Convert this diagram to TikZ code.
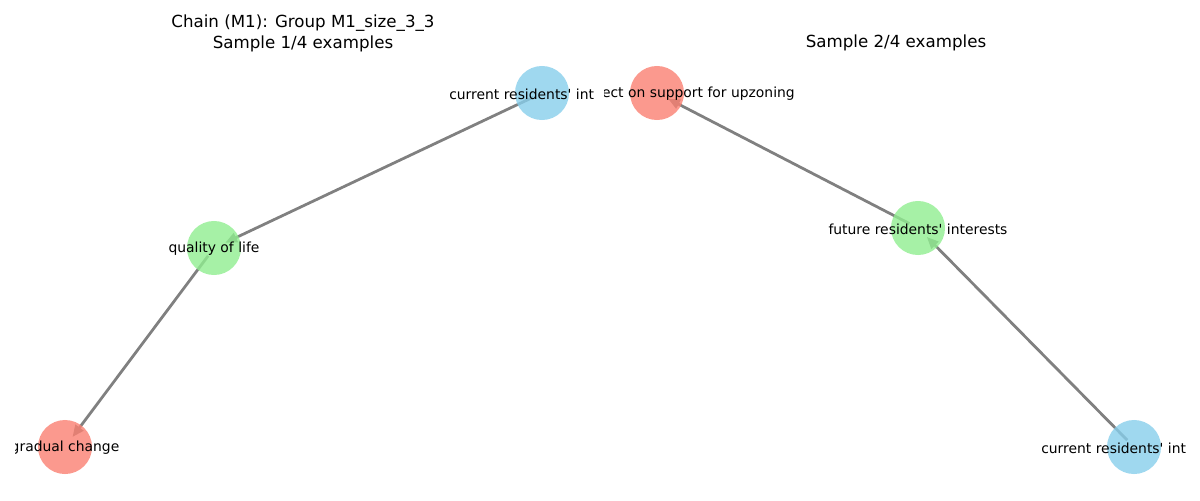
\documentclass[tikz,border=0pt]{standalone}
\usepackage{fontspec}
\setmainfont{DejaVu Sans}
\usetikzlibrary{arrows.meta, backgrounds}
\definecolor{nodeblue}{RGB}{135, 206, 235}
\definecolor{nodered}{RGB}{250, 128, 114}
\definecolor{nodegreen}{RGB}{144, 238, 144}
\definecolor{edgegray}{RGB}{128, 128, 128}

\tikzset{
    chainnode/.style={circle, minimum size=38.9pt, inner sep=0pt, fill opacity=0.8},
    chainlabel/.style={inner sep=0pt, font=\fontsize{10}{12}\selectfont},
    chainedge/.style={draw=edgegray, line width=2pt, -{Triangle[length=8.5pt,width=7pt]}, shorten <=7pt, shorten >=9pt},
    paneltitle/.style={inner sep=0pt, align=center, font=\fontsize{12}{15}\selectfont}
}

\begin{document}
\begin{tikzpicture}[x=0.72pt, y=-0.72pt]
    \useasboundingbox (0,0) rectangle (1200,500);

    % titles
    \node[paneltitle] (titleleft) at (303,33) {Chain (M1): Group M1\_size\_3\_3\\Sample 1/4 examples};
    \node[paneltitle] (titleright) at (896,43) {Sample 2/4 examples};

    % sample 1
    \node[chainnode, fill=nodeblue] (curleft) at (542,93) {};
    \node[chainnode, fill=nodegreen] (lifeleft) at (214,248) {};
    \node[chainnode, fill=nodered] (changeleft) at (65,447) {};

    % sample 2
    \node[chainnode, fill=nodered] (upzoneright) at (657,93) {};
    \node[chainnode, fill=nodegreen] (futureright) at (918,228) {};
    \node[chainnode, fill=nodeblue] (curright) at (1134,447) {};

    \begin{scope}[on background layer]
        \draw[chainedge] (curleft.center) -- (lifeleft.center);
        \draw[chainedge] (lifeleft.center) -- (changeleft.center);
        \draw[chainedge] (curright.center) -- (futureright.center);
        \draw[chainedge] (futureright.center) -- (upzoneright.center);
    \end{scope}

    % labels, cut at the panel edges
    \begin{scope}
        \clip (15,0) rectangle (593,500);
        \node[chainlabel, anchor=west] (curleftlabel) at (449,94) {current residents\textquotesingle{} int};
        \node[chainlabel] (lifeleftlabel) at (214,249) {quality of life};
        \node[chainlabel] (changeleftlabel) at (65,448) {gradual change};
    \end{scope}
    \begin{scope}
        \clip (604,0) rectangle (1185,500);
        \node[chainlabel, anchor=east] (upzonerightlabel) at (795,94) {ect on support for upzoning};
        \node[chainlabel] (futurerightlabel) at (918,229) {future residents\textquotesingle{} interests};
        \node[chainlabel, anchor=west] (currightlabel) at (1041,448) {current residents\textquotesingle{} int};
    \end{scope}
\end{tikzpicture}
\end{document}
